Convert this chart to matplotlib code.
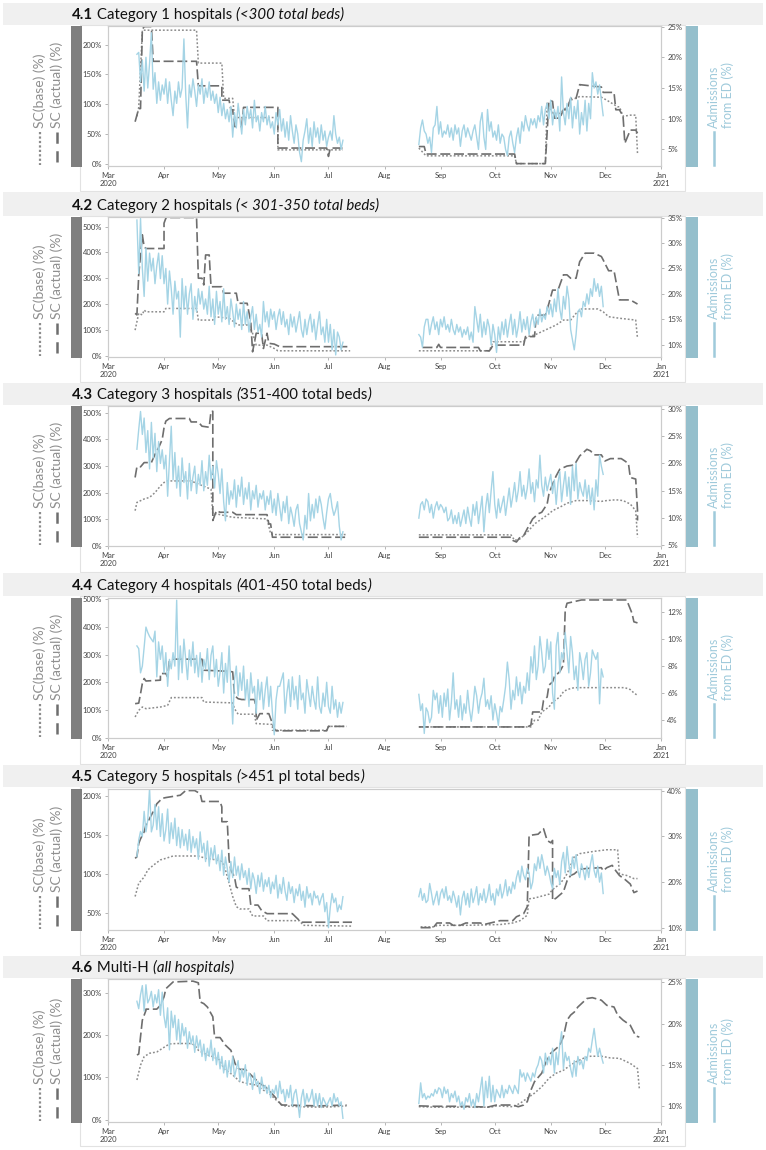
import matplotlib
matplotlib.use("Agg")
import matplotlib.pyplot as plt
from matplotlib.lines import Line2D
from matplotlib.patches import Rectangle
from matplotlib.ticker import FuncFormatter
import pandas as pd

plt.rcParams['font.family'] = ['Lato', 'DejaVu Sans']

# ---------------- data ----------------
month_labels = ["Mar\n2020", "Apr", "May", "Jun", "Jul", "Aug", "Sep", "Oct", "Nov", "Dec", "Jan\n2021"]

titles = [
    [("4.1", "bold"), (" Category 1 hospitals ", "normal"), ("(<300 total beds)", "italic")],
    [("4.2", "bold"), (" Category 2 hospitals ", "normal"), ("(< 301-350 total beds)", "italic")],
    [("4.3", "bold"), (" Category 3 hospitals ", "normal"), ("(", "italic"), ("351-400 total beds", "normal"), (")", "italic")],
    [("4.4", "bold"), (" Category 4 hospitals ", "normal"), ("(", "italic"), ("401-450 total beds", "normal"), (")", "italic")],
    [("4.5", "bold"), (" Category 5 hospitals ", "normal"), ("(", "italic"), (">451 pl total beds", "normal"), (")", "italic")],
    [("4.6", "bold"), (" Multi-H ", "normal"), ("(all hospitals)", "italic")],
]

# left axis (SC %) and right axis (Admissions from ED %)
sc_ticks = [[0, 50, 100, 150, 200], [0, 100, 200, 300, 400, 500], [0, 100, 200, 300, 400, 500],
            [0, 100, 200, 300, 400, 500], [50, 100, 150, 200], [0, 100, 200, 300]]
sc_lims = [(-3, 231), (-5, 537), (-1, 526), (-1, 505), (28, 209), (-5, 332)]
ed_ticks = [[5, 10, 15, 20, 25], [10, 15, 20, 25, 30, 35], [5, 10, 15, 20, 25, 30],
            [4, 6, 8, 10, 12], [10, 20, 30, 40], [10, 15, 20, 25]]
ed_lims = [(2.3, 25.1), (7.6, 35.1), (4.9, 30.5), (2.66, 13.06), (9.5, 40.4), (8.05, 25.4)]

# Admissions from ED (%), daily: spring from 17 Mar, autumn from 20 Aug
ed1_spring = [20.5, 20.8, 16.0, 19.5, 14.5, 20.0, 15.0, 19.0, 24.0, 14.8, 17.5, 12.5, 16.0, 13.0, 15.5,
              14.0, 16.5, 12.5, 16.0, 13.0, 10.5, 14.5, 12.5, 16.0, 13.5, 15.0, 23.0, 14.0, 8.5, 15.5,
              13.5, 16.5, 14.5, 12.0, 15.5, 14.0, 16.5, 12.5, 15.0, 13.5, 16.0, 13.0, 14.5, 12.5, 14.0,
              11.0, 13.5, 10.5, 12.5, 10.0, 11.5, 9.5, 12.0, 7.0, 11.0, 8.5, 12.5, 10.0, 7.5, 11.5,
              9.0, 12.0, 10.0, 11.5, 8.5, 13.0, 9.5, 10.5, 8.0, 11.0, 9.5, 12.0, 9.0, 10.5, 8.5, 9.5,
              7.5, 11.0, 9.0, 11.5, 8.0, 10.0, 7.0, 9.5, 6.5, 10.5, 8.0, 6.0, 9.0, 7.5, 4.5,
              3.0, 6.5, 8.0, 10.0, 6.0, 8.5, 5.5, 9.5, 7.0, 8.5, 6.0, 9.0, 6.5, 8.0, 5.5,
              7.0, 8.0, 6.5, 10.5, 7.5, 6.0, 7.0, 5.0, 6.5]
ed1_autumn = [5.8, 8.5, 9.8, 8.0, 7.5, 6.0, 7.0, 4.5, 8.5, 9.0, 12.0, 7.5,
              9.5, 7.0, 8.0, 7.5, 9.0, 7.0, 8.5, 6.5, 9.0, 7.5, 8.5, 5.5, 8.0, 9.0, 7.0,
              8.5, 7.5, 6.5, 8.0, 9.0, 7.0, 5.0, 9.5, 11.0, 7.0, 5.0, 11.5, 8.0, 9.5, 7.0,
              8.0, 6.5, 9.0, 6.0, 7.5, 7.0, 5.0, 4.0, 7.0, 8.0, 6.0, 4.5, 7.0, 8.5, 6.0, 9.5,
              8.0, 10.5, 9.0, 8.0, 10.0, 9.0, 10.0, 8.5, 10.5, 9.5, 12.0, 9.0, 11.5, 12.5, 10.0,
              13.0, 9.0, 11.5, 10.0, 12.0, 8.0, 16.8, 11.0, 9.0, 12.5, 10.0, 13.5, 8.5, 12.0, 10.0,
              13.0, 7.5, 11.0, 9.0, 13.0, 8.0, 12.5, 10.0, 17.5, 15.0, 16.0, 14.0, 15.5, 13.0, 10.5]

ed2_spring = [34.5, 24.0, 34.8, 25.0, 19.5, 29.0, 22.5, 28.0, 24.5, 27.0, 22.0, 25.5, 28.0, 23.0, 27.5,
              22.0, 25.0, 18.0, 24.5, 21.0, 16.0, 22.5, 19.0, 20.5, 11.5, 23.0, 17.0, 21.5, 16.0, 20.0,
              22.0, 15.0, 19.5, 16.5, 21.0, 18.0, 20.5, 17.0, 19.0, 16.0, 21.5, 15.5, 19.0, 14.0, 20.5,
              16.0, 18.5, 14.5, 21.0, 15.0, 17.5, 14.0, 19.0, 16.5, 13.5, 18.0, 15.0, 17.0, 13.0, 18.5,
              14.0, 16.5, 12.5, 15.5, 17.5, 13.0, 16.0, 12.5, 14.0, 11.5, 18.5, 14.5, 16.5, 13.5, 17.0, 15.0,
              16.5, 13.0, 15.5, 17.0, 14.0, 16.5, 13.5, 15.0, 12.0, 16.0, 13.5, 15.5, 12.5, 14.5, 16.5,
              13.0, 11.5, 15.0, 12.0, 14.5, 16.0, 12.5, 15.0, 11.0, 14.0, 16.5, 12.0, 13.5, 10.5, 15.0,
              10.5, 14.0, 9.0, 13.0, 8.0, 12.5, 11.5, 9.0, 10.5]
ed2_autumn = [12.0, 11.5, 9.5, 13.5, 15.0, 15.0, 12.0, 14.0, 15.5, 13.0, 14.5, 12.0,
              15.0, 13.5, 15.5, 13.0, 14.0, 12.5, 15.0, 13.0, 12.0, 14.0, 12.5, 13.5, 11.5, 13.0, 12.0,
              13.5, 11.0, 12.5, 10.5, 17.5, 15.0, 12.5, 16.0, 11.5, 14.5, 12.0, 15.0, 13.5, 10.0, 14.0,
              12.0, 8.5, 13.5, 11.0, 14.5, 12.0, 15.0, 11.5, 14.0, 16.0, 12.0, 15.0, 11.5, 13.5, 16.5,
              12.5, 15.0, 13.0, 15.5, 12.0, 14.5, 16.0, 13.5, 15.5, 14.0, 17.0, 14.5, 16.0, 15.0, 17.5, 16.0,
              18.0, 15.5, 19.0, 16.5, 21.0, 17.0, 15.0, 19.5, 17.0, 21.5, 19.0, 13.0, 11.0, 9.0, 12.0,
              16.5, 17.0, 15.5, 18.5, 17.5, 20.0, 18.0, 21.0, 19.5, 23.0, 20.5, 22.0, 19.5, 21.5, 17.5]

ed3_spring = [22.6, 26.2, 29.5, 25.3, 28.3, 22.0, 26.0, 19.0, 27.5, 21.0, 25.5, 18.5, 24.0, 20.0, 22.5,
              19.0, 21.5, 14.0, 20.5, 26.8, 17.0, 22.0, 15.5, 19.5, 14.0, 21.0, 16.5, 18.5, 13.5, 20.0,
              15.0, 17.5, 19.5, 14.5, 18.0, 16.0, 20.5, 15.0, 18.5, 16.0, 21.5, 17.0, 19.5, 15.5, 20.5,
              18.0, 14.5, 19.0, 13.0, 9.5, 16.5, 12.5, 15.0, 13.5, 17.0, 12.0, 16.0, 14.0, 17.5, 12.5,
              15.5, 13.5, 16.5, 11.5, 15.0, 13.5, 16.0, 12.0, 14.5, 13.5, 15.0, 11.5, 14.0, 12.5, 15.0, 11.0,
              13.5, 10.5, 14.5, 12.0, 9.5, 13.0, 11.0, 14.0, 9.0, 12.0, 10.5, 8.5, 11.5, 12.5, 9.0,
              7.5, 6.0, 10.5, 8.0, 14.5, 9.5, 12.5, 10.0, 13.5, 11.0, 14.0, 12.5, 10.0, 8.0, 11.0,
              13.5, 14.5, 12.0, 10.5, 11.5, 13.0, 8.5, 6.0, 7.5]
ed3_autumn = [10.0, 12.5, 13.0, 11.5, 13.5, 13.0, 11.0, 12.5, 10.0, 12.0, 13.0, 11.5,
              12.5, 12.0, 11.0, 12.0, 9.5, 10.0, 11.5, 9.0, 10.5, 9.0, 11.0, 8.5, 10.0, 11.5, 9.0,
              12.0, 10.0, 8.5, 12.5, 10.5, 13.0, 9.0, 11.5, 14.0, 7.5, 12.0, 14.5, 11.0, 15.0, 18.5,
              12.5, 10.0, 13.5, 11.0, 12.5, 14.0, 10.5, 13.0, 15.5, 12.0, 14.0, 16.5, 13.0, 15.0, 18.5,
              14.0, 16.0, 13.5, 15.5, 19.0, 14.5, 16.5, 13.0, 17.0, 15.5, 21.5, 16.0, 14.0, 17.5, 15.0, 16.5,
              18.0, 14.5, 17.0, 12.5, 16.5, 18.5, 13.0, 16.0, 18.5, 14.0, 17.5, 12.5, 19.5, 15.0, 20.0,
              13.5, 16.5, 15.0, 14.0, 17.0, 13.5, 16.0, 12.5, 15.5, 11.5, 17.0, 14.0, 21.5, 19.5, 18.0]

ed4_spring = [9.5, 9.3, 7.5, 8.0, 9.4, 10.9, 10.5, 10.2, 10.0, 9.8, 10.6, 7.2, 9.8, 8.5, 9.5,
              7.5, 9.0, 6.5, 8.5, 7.8, 9.0, 8.0, 12.9, 7.0, 9.5, 7.5, 10.0, 8.5, 7.0, 9.2,
              8.0, 9.8, 7.5, 8.8, 7.2, 9.0, 6.8, 8.5, 7.8, 9.3, 7.0, 8.8, 9.5, 7.2, 8.5,
              6.5, 7.5, 9.0, 6.0, 8.2, 6.8, 9.5, 6.5, 3.7, 7.0, 8.0, 5.8, 7.5, 6.2, 8.0,
              5.5, 7.0, 5.0, 7.5, 6.0, 6.5, 4.5, 7.0, 5.5, 6.8, 4.8, 6.2, 7.2, 5.0, 6.5, 4.5,
              2.9, 5.5, 6.5, 6.5, 7.0, 7.5, 4.5, 6.0, 7.0, 5.0, 7.2, 5.5, 6.5, 4.8, 7.3,
              5.5, 6.0, 4.5, 7.0, 6.0, 5.0, 6.5, 5.5, 4.8, 7.2, 5.0, 4.5, 6.0, 5.0, 6.8,
              5.0, 4.5, 6.5, 4.8, 5.5, 4.2, 5.3, 4.5, 5.3]
ed4_autumn = [5.9, 4.7, 5.2, 3.0, 4.9, 4.6, 3.8, 4.2, 6.2, 5.5, 6.0, 4.5,
              5.8, 4.2, 6.0, 5.0, 6.3, 4.0, 5.3, 7.5, 4.8, 5.5, 4.2, 5.8, 4.0, 5.2, 4.5,
              6.2, 4.8, 3.9, 5.0, 6.5, 5.8, 4.5, 5.5, 6.0, 7.1, 5.0, 5.5, 4.8, 5.8, 4.0,
              5.2, 4.5, 3.6, 5.0, 4.6, 5.5, 6.5, 8.3, 7.0, 4.8, 6.2, 5.5, 7.2, 5.8, 6.8,
              5.2, 6.5, 6.0, 7.5, 6.2, 8.7, 7.5, 9.5, 7.0, 8.0, 10.2, 9.0, 7.5, 8.0, 10.0, 8.5,
              9.8, 6.0, 4.8, 9.5, 10.5, 7.5, 9.0, 8.5, 10.5, 9.0, 7.5, 10.2, 9.0, 7.0, 8.0,
              6.2, 9.0, 8.2, 7.0, 8.5, 9.0, 6.5, 7.5, 9.2, 8.8, 8.5, 9.0, 5.2, 7.8, 7.2]

ed5_spring = [25.6, 29.2, 31.1, 30.0, 35.5, 31.0, 33.6, 40.6, 31.0, 32.5, 37.0, 31.5, 36.5, 30.0, 35.0,
              29.0, 31.5, 36.0, 28.5, 33.0, 29.5, 34.0, 28.0, 32.0, 27.5, 31.5, 28.0, 30.5, 27.0, 31.5,
              26.5, 30.0, 27.5, 29.5, 25.0, 31.0, 26.5, 28.5, 24.5, 29.0, 23.5, 27.5, 25.0, 28.0, 24.0,
              26.0, 22.5, 27.0, 21.5, 25.5, 23.0, 20.0, 24.5, 21.0, 25.5, 21.5, 23.5, 20.5, 24.0, 21.0,
              22.5, 19.5, 23.0, 18.5, 22.0, 20.5, 17.5, 21.5, 19.0, 22.0, 18.0, 20.5, 19.0, 21.0, 17.5, 20.0,
              18.5, 21.5, 16.5, 19.5, 17.5, 21.0, 18.0, 16.0, 20.0, 17.5, 19.0, 15.5, 18.5, 17.0, 19.5,
              16.0, 18.0, 14.5, 19.0, 16.5, 17.5, 15.0, 18.0, 16.5, 17.0, 15.0, 16.5, 17.5, 13.5, 15.5,
              10.0, 14.5, 17.5, 15.5, 16.5, 13.5, 15.0, 14.0, 16.8]
ed5_autumn = [16.8, 18.6, 16.0, 17.5, 15.5, 16.0, 19.7, 17.5, 15.0, 16.5, 18.0, 15.0,
              17.5, 18.5, 16.5, 19.0, 16.0, 17.0, 15.5, 18.0, 16.5, 14.5, 17.0, 12.8, 16.5, 18.0, 15.0,
              17.5, 14.5, 18.5, 15.5, 17.0, 19.0, 15.0, 17.5, 16.0, 18.5, 15.5, 17.0, 19.5, 16.0, 17.5,
              15.0, 18.5, 17.0, 19.5, 16.5, 18.0, 20.5, 17.0, 19.0, 17.5, 20.0, 18.5, 21.0, 22.5, 20.0,
              23.5, 21.5, 20.5, 23.0, 22.0, 18.5, 20.0, 24.0, 22.5, 25.5, 23.0, 26.0, 24.0, 21.5, 23.5, 22.0,
              20.0, 18.5, 23.0, 21.0, 22.5, 19.5, 24.5, 26.5, 22.0, 27.8, 24.0, 21.5, 25.5, 23.0, 26.0,
              22.5, 21.0, 24.0, 22.5, 20.5, 23.5, 21.0, 24.0, 26.0, 22.5, 21.0, 23.5, 20.0, 22.0, 17.5]

ed6_spring = [22.7, 21.8, 23.5, 24.6, 21.5, 24.7, 22.5, 23.0, 23.9, 22.0, 23.5, 22.5, 24.1, 21.0, 23.8,
              20.9, 19.5, 21.9, 16.8, 21.5, 19.5, 21.0, 18.0, 20.5, 17.5, 20.0, 18.5, 19.5, 17.0, 19.0,
              17.5, 18.5, 16.5, 18.5, 17.0, 18.0, 16.0, 17.5, 15.5, 17.0, 16.0, 18.0, 15.5, 17.0, 15.0,
              16.5, 14.5, 16.0, 14.0, 15.5, 13.5, 15.5, 14.0, 16.0, 13.5, 14.5, 15.5, 13.0, 14.5, 13.5,
              15.0, 12.5, 14.0, 13.5, 12.0, 14.0, 12.5, 13.0, 11.5, 13.5, 12.0, 12.5, 11.5, 12.5, 11.0, 12.0,
              11.5, 12.5, 11.0, 13.0, 11.5, 12.0, 10.5, 12.0, 11.0, 12.5, 10.0, 11.5, 12.0, 10.5, 8.6,
              11.0, 12.0, 10.0, 11.5, 10.5, 11.0, 12.0, 10.0, 11.5, 10.0, 11.5, 9.8, 11.0, 10.5, 10.0,
              10.5, 11.0, 10.0, 11.5, 10.5, 11.0, 10.0, 10.5, 8.5]
ed6_autumn = [10.3, 12.8, 11.0, 11.5, 10.8, 11.2, 11.0, 11.5, 11.2, 12.0, 11.5, 12.2,
              12.0, 11.0, 12.3, 11.5, 12.0, 10.5, 11.5, 11.0, 11.8, 10.5, 11.2, 10.0, 10.5, 9.6, 11.0,
              10.5, 11.5, 10.0, 10.8, 9.8, 11.5, 10.5, 12.0, 13.5, 10.0, 13.0, 11.0, 13.6, 10.5, 12.5,
              10.5, 12.0, 11.5, 11.0, 12.5, 11.0, 12.0, 11.5, 12.5, 12.0, 11.5, 12.5, 12.0, 11.5, 14.4,
              13.5, 14.0, 13.0, 14.0, 13.5, 13.0, 14.0, 13.5, 14.5, 15.0, 16.0, 15.5, 14.0, 16.4, 15.0, 16.0,
              15.0, 17.0, 14.0, 16.5, 15.0, 17.5, 19.0, 14.5, 16.5, 15.5, 16.0, 14.5, 13.5, 15.5, 13.6,
              16.0, 15.0, 15.5, 14.5, 16.0, 15.5, 17.0, 16.5, 18.0, 19.4, 17.5, 16.0, 17.0, 16.0, 15.2]

# SC (actual) and SC (base), % -- (date, value) vertices, spring and autumn pieces
sc1_actual = [[("03-16", 71), ("03-18", 93), ("03-19", 93), ("03-20", 225), ("03-21", 230), ("03-25", 230),
               ("03-26", 172), ("04-19", 172), ("04-20", 131), ("05-03", 131), ("05-03", 107), ("05-07", 107),
               ("05-08", 91), ("05-09", 91), ("05-10", 63), ("05-14", 63), ("05-15", 95), ("06-03", 95),
               ("06-03", 27), ("06-30", 27), ("07-01", 13), ("07-02", 27), ("07-09", 27)],
              [("08-20", 29.5), ("08-23", 29.5), ("08-24", 17), ("10-12", 17), ("10-13", 1), ("10-29", 1),
               ("10-31", 107), ("11-02", 105), ("11-03", 77), ("11-06", 77), ("11-08", 91), ("11-10", 91),
               ("11-12", 110), ("11-15", 110), ("11-17", 133), ("11-23", 131), ("11-29", 129), ("11-30", 120),
               ("12-06", 120), ("12-07", 91), ("12-09", 91), ("12-11", 80), ("12-12", 35), ("12-15", 57),
               ("12-18", 57), ("12-19", 52)]]
sc1_base = [[("03-17", 80), ("03-18", 95), ("03-20", 224), ("04-19", 224), ("04-20", 169), ("05-03", 169),
             ("05-04", 110), ("05-09", 110), ("05-10", 78), ("06-03", 78), ("06-03", 24), ("07-09", 24)],
            [("08-20", 27), ("08-24", 14), ("10-12", 14), ("10-13", 1), ("10-29", 1), ("10-30", 102),
             ("11-02", 85), ("11-06", 85), ("11-10", 96), ("11-12", 107), ("11-17", 113), ("11-29", 112),
             ("12-02", 107), ("12-08", 96), ("12-09", 96), ("12-11", 80), ("12-15", 82), ("12-18", 82),
             ("12-19", 18)]]

sc2_actual = [[("03-16", 164), ("03-17", 158), ("03-18", 313), ("03-20", 468), ("03-21", 422), ("03-22", 415),
               ("04-01", 415), ("04-01", 513), ("04-02", 532), ("04-03", 535), ("04-19", 535), ("04-20", 300),
               ("04-22", 300), ("04-23", 274), ("04-24", 390), ("04-26", 390), ("04-27", 267), ("05-03", 267),
               ("05-04", 242), ("05-11", 242), ("05-12", 203), ("05-17", 203), ("05-19", 132), ("05-20", 15),
               ("05-22", 87), ("05-25", 87), ("05-26", 28), ("05-28", 87), ("05-29", 48), ("06-01", 45),
               ("06-04", 35), ("07-13", 35)],
              [("08-22", 32), ("08-30", 32), ("08-31", 44), ("09-01", 32), ("09-22", 32), ("09-23", 19),
               ("09-28", 19), ("09-29", 28), ("09-30", 41), ("10-17", 41), ("10-18", 74), ("10-23", 74),
               ("10-24", 157), ("10-29", 157), ("10-31", 203), ("11-02", 254), ("11-05", 254), ("11-08", 313),
               ("11-10", 313), ("11-12", 300), ("11-15", 300), ("11-17", 364), ("11-20", 397), ("11-25", 397),
               ("11-29", 384), ("11-30", 371), ("12-03", 329), ("12-06", 329), ("12-09", 216), ("12-15", 216),
               ("12-19", 200)]]
sc2_base = [[("03-16", 99), ("03-18", 164), ("03-20", 158), ("03-21", 177), ("03-22", 170), ("04-01", 170),
             ("04-02", 183), ("04-19", 183), ("04-20", 138), ("04-28", 138), ("04-29", 151), ("05-07", 145),
             ("05-12", 119), ("05-18", 119), ("05-20", 87), ("05-22", 41), ("05-28", 41), ("06-01", 28),
             ("06-03", 19), ("07-13", 19)],
            [("08-20", 19), ("09-28", 19), ("09-30", 54), ("10-17", 54), ("10-19", 74), ("10-23", 80),
             ("10-31", 106), ("11-04", 119), ("11-08", 138), ("11-12", 138), ("11-15", 164), ("11-18", 181),
             ("11-27", 181), ("11-30", 170), ("12-03", 151), ("12-09", 145), ("12-18", 138), ("12-19", 67)]]

sc3_actual = [[("03-16", 257), ("03-17", 297), ("03-19", 297), ("03-21", 313), ("03-25", 313), ("03-27", 344),
               ("03-29", 369), ("03-31", 400), ("04-01", 444), ("04-02", 469), ("04-04", 479), ("04-15", 479),
               ("04-16", 466), ("04-20", 466), ("04-22", 450), ("04-26", 446), ("04-27", 506), ("04-28", 506),
               ("04-28", 95), ("04-30", 132), ("05-02", 126), ("05-09", 126), ("05-11", 117), ("05-28", 117),
               ("05-29", 82), ("05-30", 82), ("05-31", 32), ("07-11", 32)],
              [("08-20", 32), ("10-10", 32), ("10-11", 20), ("10-13", 14), ("10-15", 32), ("10-17", 38),
               ("10-19", 64), ("10-22", 101), ("10-25", 120), ("10-27", 126), ("10-30", 157), ("10-31", 195),
               ("11-02", 232), ("11-04", 263), ("11-06", 288), ("11-10", 300), ("11-14", 304), ("11-17", 338),
               ("11-21", 363), ("11-23", 357), ("11-25", 342), ("11-29", 342), ("12-01", 319), ("12-04", 328),
               ("12-10", 328), ("12-12", 319), ("12-14", 309), ("12-15", 257), ("12-18", 251), ("12-19", 132),
               ("12-19", 95)]]
sc3_base = [[("03-16", 132), ("03-17", 163), ("03-21", 176), ("03-24", 182), ("03-27", 200), ("03-30", 225),
             ("04-01", 238), ("04-03", 244), ("04-16", 244), ("04-20", 232), ("04-27", 213), ("04-28", 120),
             ("04-30", 120), ("05-09", 107), ("05-28", 101), ("05-30", 45), ("06-01", 42), ("07-11", 42)],
            [("08-20", 41), ("10-10", 41), ("10-12", 20), ("10-15", 26), ("10-19", 51), ("10-23", 82),
             ("10-27", 101), ("10-31", 120), ("11-02", 132), ("11-06", 145), ("11-10", 160), ("11-15", 170),
             ("11-21", 170), ("11-29", 167), ("12-02", 170), ("12-07", 173), ("12-11", 170), ("12-15", 157),
             ("12-18", 132), ("12-19", 32)]]

sc4_actual = [[("03-16", 123), ("03-18", 125), ("03-19", 159), ("03-20", 196), ("03-21", 214), ("03-22", 205),
               ("03-30", 208), ("03-30", 232), ("04-02", 232), ("04-03", 220), ("04-04", 280), ("04-05", 284),
               ("04-22", 284), ("04-23", 244), ("05-07", 240), ("05-09", 238), ("05-10", 153), ("05-12", 141),
               ("05-14", 138), ("05-21", 138), ("05-22", 111), ("05-22", 63), ("05-24", 87), ("05-29", 87),
               ("05-31", 51), ("06-01", 33), ("06-02", 25), ("06-30", 25), ("07-01", 41), ("07-11", 41)],
              [("08-20", 39), ("10-19", 39), ("10-21", 45), ("10-22", 93), ("10-27", 93), ("10-28", 135),
               ("10-30", 147), ("10-31", 190), ("11-02", 202), ("11-03", 220), ("11-06", 239), ("11-08", 263),
               ("11-09", 462), ("11-10", 486), ("11-14", 492), ("11-18", 498), ("12-13", 498), ("12-16", 449),
               ("12-17", 419), ("12-19", 415)]]
sc4_base = [[("03-16", 75), ("03-18", 99), ("03-20", 111), ("03-22", 105), ("03-30", 111), ("04-03", 117),
             ("04-05", 145), ("04-22", 145), ("04-23", 129), ("05-09", 126), ("05-10", 105), ("05-12", 85),
             ("05-21", 85), ("05-22", 51), ("05-31", 48), ("05-31", 27), ("06-30", 27), ("07-01", 41),
             ("07-11", 41)],
            [("08-20", 39), ("10-21", 39), ("10-23", 63), ("10-25", 63), ("10-27", 93), ("10-31", 111),
             ("11-02", 129), ("11-06", 147), ("11-08", 166), ("11-10", 174), ("11-14", 181), ("12-12", 181),
             ("12-15", 174), ("12-17", 162), ("12-19", 153)]]

sc5_actual = [[("03-16", 120), ("03-17", 122), ("03-18", 139), ("03-19", 145), ("03-21", 154), ("03-22", 163),
               ("03-24", 171), ("03-26", 180), ("03-28", 190), ("03-31", 197), ("04-02", 198), ("04-10", 201),
               ("04-13", 207), ("04-18", 207), ("04-21", 203), ("04-22", 193), ("05-02", 193), ("05-03", 186),
               ("05-03", 167), ("05-06", 167), ("05-07", 118), ("05-08", 105), ("05-10", 96), ("05-11", 83),
               ("05-13", 81), ("05-18", 81), ("05-19", 60), ("05-23", 60), ("05-25", 53), ("05-28", 49),
               ("06-11", 49), ("06-15", 40), ("06-16", 38), ("07-14", 38)],
              [("08-21", 31), ("08-28", 31), ("08-30", 37), ("09-06", 37), ("09-08", 34), ("09-12", 34),
               ("09-15", 37), ("09-23", 37), ("09-25", 35), ("10-04", 40), ("10-11", 40), ("10-13", 45),
               ("10-17", 49), ("10-19", 58), ("10-20", 149), ("10-22", 150), ("10-25", 151), ("10-28", 158),
               ("10-30", 143), ("11-01", 140), ("11-02", 143), ("11-02", 66), ("11-04", 69), ("11-06", 73),
               ("11-08", 77), ("11-10", 91), ("11-12", 98), ("11-14", 100), ("11-17", 106), ("11-21", 107),
               ("11-29", 108), ("11-30", 104), ("12-02", 108), ("12-05", 111), ("12-07", 104), ("12-09", 98),
               ("12-12", 93), ("12-15", 87), ("12-17", 76), ("12-19", 78)]]
sc5_base = [[("03-16", 71), ("03-18", 88), ("03-21", 96), ("03-23", 105), ("03-26", 111), ("03-30", 118),
             ("04-02", 120), ("04-06", 123), ("04-20", 123), ("04-24", 120), ("04-30", 118), ("05-03", 116),
             ("05-05", 105), ("05-07", 88), ("05-09", 71), ("05-11", 58), ("05-13", 55), ("05-18", 55),
             ("05-20", 46), ("05-26", 46), ("05-28", 40), ("06-15", 40), ("06-17", 34), ("07-14", 33)],
            [("08-21", 32), ("08-29", 32), ("08-30", 34), ("09-15", 34), ("10-04", 35), ("10-11", 37),
             ("10-15", 40), ("10-19", 47), ("10-20", 68), ("10-23", 69), ("10-31", 74), ("11-02", 80),
             ("11-06", 87), ("11-08", 93), ("11-10", 100), ("11-14", 122), ("11-17", 126), ("11-25", 129),
             ("12-02", 131), ("12-08", 131), ("12-09", 100), ("12-13", 98), ("12-17", 94), ("12-19", 94)]]

sc6_actual = [[("03-17", 153), ("03-18", 155), ("03-19", 196), ("03-20", 235), ("03-22", 258), ("03-22", 261),
               ("03-28", 261), ("03-30", 270), ("04-01", 290), ("04-02", 309), ("04-04", 317), ("04-06", 325),
               ("04-17", 327), ("04-20", 323), ("04-21", 278), ("04-23", 274), ("04-25", 266), ("04-28", 243),
               ("04-29", 194), ("05-02", 194), ("05-05", 176), ("05-08", 164), ("05-10", 137), ("05-11", 125),
               ("05-13", 119), ("05-16", 119), ("05-20", 102), ("05-24", 86), ("05-27", 78), ("05-29", 70),
               ("06-02", 51), ("06-05", 35), ("06-09", 35), ("06-15", 34), ("06-26", 33), ("07-11", 35)],
              [("08-20", 33), ("08-28", 32), ("09-15", 32), ("09-27", 30), ("10-02", 35), ("10-11", 35),
               ("10-14", 31), ("10-17", 35), ("10-19", 43), ("10-21", 70), ("10-23", 90), ("10-27", 110),
               ("10-29", 133), ("11-01", 157), ("11-04", 168), ("11-06", 176), ("11-08", 196), ("11-10", 235),
               ("11-12", 247), ("11-14", 254), ("11-16", 266), ("11-18", 274), ("11-21", 286), ("11-24", 288),
               ("11-29", 282), ("12-02", 270), ("12-06", 266), ("12-08", 247), ("12-11", 235), ("12-15", 223),
               ("12-18", 198), ("12-20", 195)]]
sc6_base = [[("03-17", 94), ("03-19", 129), ("03-21", 149), ("03-24", 157), ("03-28", 160), ("04-01", 171),
             ("04-04", 179), ("04-08", 180), ("04-16", 180), ("04-18", 176), ("04-20", 164), ("04-24", 155),
             ("04-28", 149), ("05-02", 141), ("05-04", 121), ("05-09", 106), ("05-13", 90), ("05-17", 86),
             ("05-22", 82), ("05-26", 70), ("05-29", 63), ("06-02", 47), ("06-06", 33), ("06-15", 31),
             ("06-26", 30), ("07-04", 31), ("07-11", 33)],
            [("08-20", 31), ("08-28", 30), ("09-29", 30), ("10-02", 33), ("10-11", 31), ("10-15", 39),
             ("10-19", 51), ("10-23", 63), ("10-27", 78), ("10-31", 98), ("11-04", 110), ("11-08", 117),
             ("11-12", 129), ("11-15", 137), ("11-19", 145), ("11-23", 150), ("11-29", 150), ("12-04", 146),
             ("12-09", 145), ("12-15", 133), ("12-19", 121), ("12-20", 74)]]

ed_spring = [ed1_spring, ed2_spring, ed3_spring, ed4_spring, ed5_spring, ed6_spring]
ed_autumn = [ed1_autumn, ed2_autumn, ed3_autumn, ed4_autumn, ed5_autumn, ed6_autumn]
sc_actual = [sc1_actual, sc2_actual, sc3_actual, sc4_actual, sc5_actual, sc6_actual]
sc_base = [sc1_base, sc2_base, sc3_base, sc4_base, sc5_base, sc6_base]

# ---------------- layout (pixels) ----------------
W, H = 766, 1150
# header top, header bottom, axes top, axes bottom, frame bottom
PANELS = [(3, 25, 26, 166, 191), (192, 216, 217, 357, 382), (383, 405, 406, 546, 572),
          (573, 596, 598, 738, 764), (765, 787, 789, 930, 955), (956, 978, 979, 1122, 1146)]

C_BLUE = '#a5d4e5'
C_DASH = '#6e6e6e'
C_DOT = '#8c8c8c'
C_LAB = '#8f8f8f'
C_BLUE_LAB = '#9fcadb'


def fx(x):
    return x / W


def fy(y):
    return 1 - y / H


def to_xy(pts):
    d = [pd.Timestamp("2020-" + p[0]) for p in pts]
    v = [p[1] for p in pts]
    return d, v


fig = plt.figure(figsize=(W / 100, H / 100), dpi=100)
fig.patch.set_facecolor('white')
renderer = fig.canvas.get_renderer()

month_ticks = pd.date_range("2020-03-01", periods=len(month_labels), freq="MS")

for i, (ht, hb, at, ab, fb) in enumerate(PANELS):
    # header band
    fig.patches.append(Rectangle((fx(3), fy(hb)), fx(760), (hb - ht) / H, transform=fig.transFigure,
                                 facecolor='#f0f0f0', edgecolor='none', zorder=-2))
    # panel frame
    fig.patches.append(Rectangle((fx(80), fy(fb)), fx(605), (fb - hb) / H, transform=fig.transFigure,
                                 facecolor='white', edgecolor='#e2e2e2', lw=0.8, zorder=-2))

    # title pieces
    x0 = 72
    for txt, style in titles[i]:
        t = fig.text(fx(x0), fy(hb - 6), txt, fontsize=10.8, color='#111111', va='baseline', ha='left',
                     fontweight='bold' if style == 'bold' else 'normal',
                     fontstyle='italic' if style == 'italic' else 'normal')
        x0 += t.get_window_extent(renderer).width

    # side bars
    fig.patches.append(Rectangle((fx(71), fy(ab + 1)), fx(11), (ab + 1 - at) / H, transform=fig.transFigure,
                                 facecolor='#7f7f7f', edgecolor='none'))
    fig.patches.append(Rectangle((fx(686), fy(ab + 1)), fx(12), (ab + 1 - at) / H, transform=fig.transFigure,
                                 facecolor='#95bfcc', edgecolor='none'))

    # left labels with line samples
    fig.text(fx(40), fy(ab - 38), "SC(base) (%)", rotation=90, ha='center', va='bottom',
             fontsize=10, color=C_LAB)
    fig.text(fx(57), fy(ab - 38), "SC (actual) (%)", rotation=90, ha='center', va='bottom',
             fontsize=10, color=C_LAB)
    fig.lines.append(Line2D([fx(40), fx(40)], [fy(ab - 34), fy(ab - 1)], transform=fig.transFigure,
                            color=C_DOT, lw=1.6, ls=(0, (1, 1))))
    fig.lines.append(Line2D([fx(57), fx(57)], [fy(ab - 34), fy(ab - 1)], transform=fig.transFigure,
                            color=C_DASH, lw=1.8, ls=(0, (4.5, 3))))
    # right label with line sample
    fig.text(fx(721), fy(ab - 38), "Admissions\nfrom ED (%)", rotation=90, ha='center', va='bottom',
             multialignment='left', fontsize=9, color=C_BLUE_LAB, linespacing=1.05)
    fig.lines.append(Line2D([fx(714), fx(714)], [fy(ab - 34), fy(ab - 1)], transform=fig.transFigure,
                            color=C_BLUE_LAB, lw=1.8))

    # chart
    ax = fig.add_axes([fx(108), fy(ab), 553 / W, (ab - at) / H])
    ax2 = ax.twinx()
    for seg in sc_base[i]:
        d, v = to_xy(seg)
        ax.plot(d, v, color=C_DOT, lw=1.1, ls=(0, (1.2, 1.3)))
    for seg in sc_actual[i]:
        d, v = to_xy(seg)
        ax.plot(d, v, color=C_DASH, lw=1.2, ls=(0, (6, 2.2)))
    ax2.plot(pd.date_range("2020-03-17", periods=len(ed_spring[i])), ed_spring[i], color=C_BLUE, lw=1.0)
    ax2.plot(pd.date_range("2020-08-20", periods=len(ed_autumn[i])), ed_autumn[i], color=C_BLUE, lw=1.0)

    ax.set_xlim(month_ticks[0], month_ticks[-1])
    ax.set_ylim(*sc_lims[i])
    ax2.set_ylim(*ed_lims[i])
    ax.set_yticks(sc_ticks[i])
    ax2.set_yticks(ed_ticks[i])
    ax.yaxis.set_major_formatter(FuncFormatter(lambda v, p: f"{v:.0f}%"))
    ax2.yaxis.set_major_formatter(FuncFormatter(lambda v, p: f"{v:.0f}%"))
    ax.set_xticks(month_ticks)
    ax.set_xticklabels(month_labels)
    for a in (ax, ax2):
        a.tick_params(labelsize=5.5, labelcolor='#444444', color='#aaaaaa', length=2.5, width=0.6, pad=2)
        for s in a.spines.values():
            s.set_color('#cccccc')
            s.set_linewidth(0.8)
    ax.set_facecolor('white')

fig.savefig("out.png", dpi=100, facecolor='white')
